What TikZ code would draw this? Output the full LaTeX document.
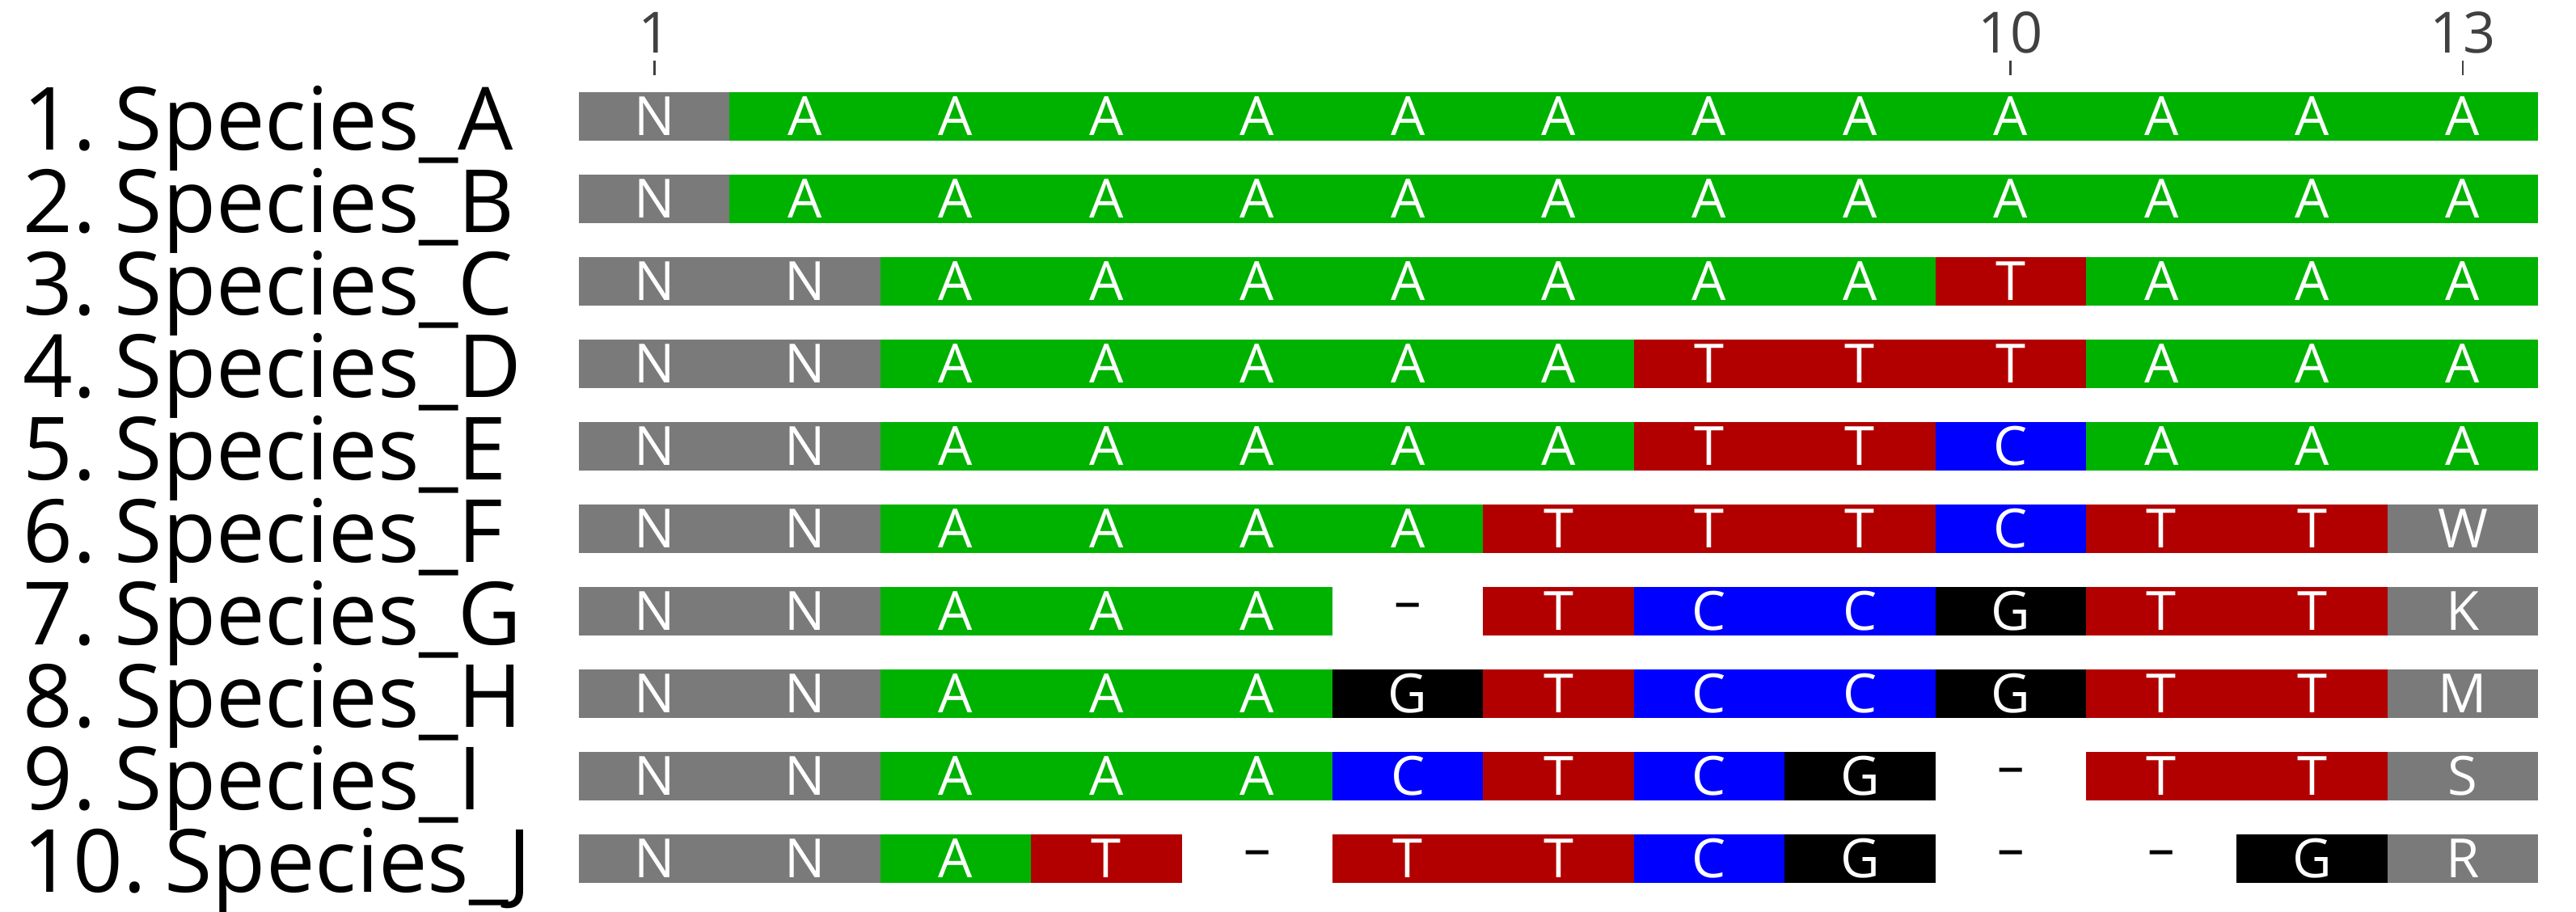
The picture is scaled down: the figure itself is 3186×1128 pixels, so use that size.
\documentclass[tikz,border=0pt]{standalone}
\usepackage{fontspec}
\setmainfont{Open Sans}
\usetikzlibrary{positioning}

\definecolor{ntgreen}{RGB}{0,178,0}
\definecolor{ntred}{RGB}{178,0,0}
\definecolor{ntblue}{RGB}{0,0,255}
\definecolor{ntgray}{RGB}{122,122,122}
\definecolor{axisgray}{RGB}{64,64,64}

\tikzset{
  cell/.style={minimum width=1.864cm, minimum height=0.6cm, inner sep=0pt,
    text=white, font=\fontsize{19}{19}\selectfont},
  nt A/.style={fill=ntgreen},
  nt T/.style={fill=ntred},
  nt C/.style={fill=ntblue},
  nt G/.style={fill=black},
  nt N/.style={fill=ntgray},
  nt W/.style={fill=ntgray},
  nt K/.style={fill=ntgray},
  nt M/.style={fill=ntgray},
  nt S/.style={fill=ntgray},
  nt R/.style={fill=ntgray},
  nt –/.style={text=black},
  species/.style={anchor=base west, inner sep=0pt, font=\fontsize{30.7}{30.7}\selectfont},
  ticklabel/.style={anchor=base, inner sep=0pt, text=axisgray, font=\fontsize{20}{20}\selectfont}
}

\begin{document}
\begin{tikzpicture}[x=0.01cm, y=-0.01cm]
  \useasboundingbox (0,0) rectangle (3186,1128);

  % Axis ticks
  \foreach \pos in {1,10,13} {
    \node[ticklabel] (tick-\pos) at ({716+(\pos-0.5)*186.4}, 66) {\pos};
    \draw[axisgray, line width=0.8pt] ({716+(\pos-0.5)*186.4}, 75) -- ++(0, 18);
  }

  % Species names
  \foreach \sp [count=\r] in {A,...,J}
    \node[species] (lab-\r) at (28, {186+(\r-1)*102}) {\r.\hspace{0.21em}Species\_\sp};

  % Alignment
  \foreach \seq [count=\r] in {
      {N,A,A,A,A,A,A,A,A,A,A,A,A},
      {N,A,A,A,A,A,A,A,A,A,A,A,A},
      {N,N,A,A,A,A,A,A,A,T,A,A,A},
      {N,N,A,A,A,A,A,T,T,T,A,A,A},
      {N,N,A,A,A,A,A,T,T,C,A,A,A},
      {N,N,A,A,A,A,T,T,T,C,T,T,W},
      {N,N,A,A,A,–,T,C,C,G,T,T,K},
      {N,N,A,A,A,G,T,C,C,G,T,T,M},
      {N,N,A,A,A,C,T,C,G,–,T,T,S},
      {N,N,A,T,–,T,T,C,G,–,–,G,R}} {
    \foreach \b [count=\c] in \seq
      \node[cell, nt \b] (c-\r-\c) at ({716+(\c-0.5)*186.4}, {144+(\r-1)*102}) {\b};
  }
\end{tikzpicture}
\end{document}
